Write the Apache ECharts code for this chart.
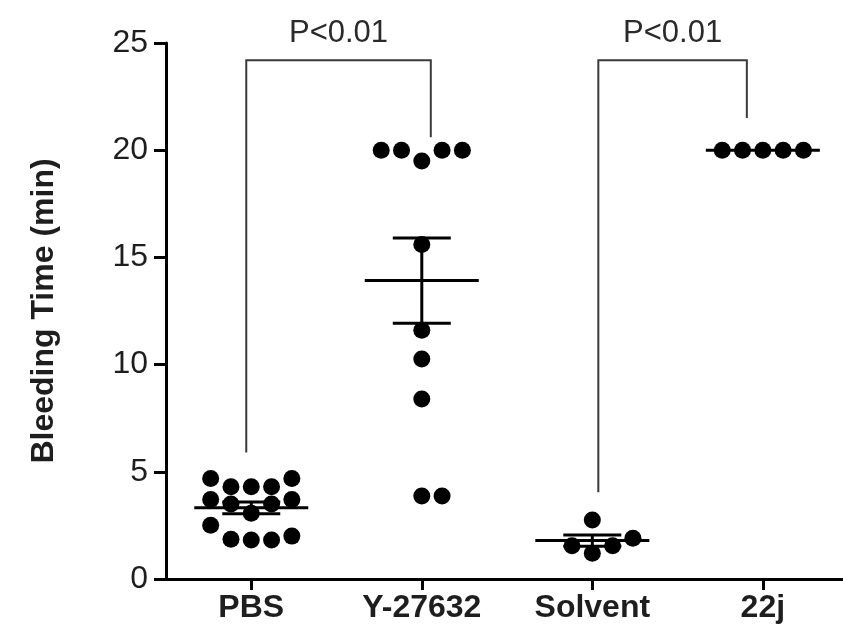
<!DOCTYPE html>
<html>
<head>
<meta charset="utf-8">
<script src="https://cdn.jsdelivr.net/npm/echarts@6/dist/echarts.min.js"></script>
<style>
  html, body { margin: 0; padding: 0; background: #fff; }
  #main { width: 843px; height: 640px; }
</style>
</head>
<body>
<div id="main"></div>
<script>
// groups on the x axis
var groups = ['PBS', 'Y-27632', 'Solvent', '22j'];

// bleeding time (min) for each animal
var pbsValues = [4.69, 4.69, 4.3, 4.3, 4.3, 3.71, 3.71, 3.5, 3.5, 3.07, 2.51, 2.0, 1.85, 1.82, 1.82];
var y27632Values = [20, 20, 19.5, 20, 20, 15.6, 11.6, 10.26, 8.4, 3.87, 3.87];
var solventValues = [2.75, 1.9, 1.55, 1.55, 1.2];
var j22Values = [20, 20, 20, 20, 20];

// y axis
var yMin = 0;
var yMax = 25;
var yStep = 5;

// significance brackets: [from group, to group], top, leg ends, text
var bracketPairs = [[0, 1], [2, 3]];
var bracketTops = [24.2, 24.2];
var bracketLegEnds = [[5.9, 20.6], [4.05, 21.5]];
var bracketTexts = ['P<0.01', 'P<0.01'];

var FONT = "'Liberation Sans', Arial, sans-serif";
var DOT = 17;              // dot diameter px
var SLOT = 0.119;          // horizontal step between dots, in x units
var GAP = 0.75;            // min vertical distance (y units) for dots sharing a slot

// simple beeswarm: ascending values, slots 0, +1, -1, +2, -2 ...
function swarm(values, gi) {
  var sorted = values.slice().sort(function (a, b) { return a - b; });
  var order = [0, 1, -1, 2, -2, 3, -3, 4, -4];
  var placed = [];
  return sorted.map(function (v) {
    for (var k = 0; k < order.length; k++) {
      var s = order[k];
      var hit = placed.some(function (p) { return p.s === s && Math.abs(p.v - v) < GAP; });
      if (!hit) { placed.push({ s: s, v: v }); return [gi + s * SLOT, v]; }
    }
    return [gi, v];
  });
}

function meanSem(values) {
  var n = values.length;
  var m = values.reduce(function (a, b) { return a + b; }, 0) / n;
  var ss = values.reduce(function (a, b) { return a + (b - m) * (b - m); }, 0);
  var sd = n > 1 ? Math.sqrt(ss / (n - 1)) : 0;
  return [m, sd / Math.sqrt(n)];
}

var allValues = [pbsValues, y27632Values, solventValues, j22Values];

var dots = [];
allValues.forEach(function (vals, gi) { dots = dots.concat(swarm(vals, gi)); });

var stats = allValues.map(function (vals, gi) {
  var ms = meanSem(vals);
  return [gi, ms[0], ms[1]];
});

var bracketData = bracketPairs.map(function (p, i) {
  return [p[0], p[1], bracketTops[i], bracketLegEnds[i][0], bracketLegEnds[i][1], i];
});
// small pixel nudges of bracket legs (left, right)
var legNudge = [[-5, 9], [6, -16]];

var chart = echarts.init(document.getElementById('main'));

var option = {
  animation: false,
  backgroundColor: '#fff',
  grid: { left: 166, right: 0, top: 43, bottom: 61 },
  xAxis: {
    type: 'value',
    min: -0.5,
    max: 3.47,
    splitLine: { show: false },
    axisLine: { show: true, onZero: false, lineStyle: { color: '#000', width: 3 } },
    axisTick: { show: true, customValues: [0, 1, 2, 3], length: 11, lineStyle: { color: '#000', width: 3 } },
    axisLabel: {
      customValues: [0, 1, 2, 3],
      margin: 13,
      color: '#1e1e1e',
      fontSize: 32,
      fontWeight: 'bold',
      fontFamily: FONT,
      formatter: function (v) { return groups[Math.round(v)]; }
    }
  },
  yAxis: {
    type: 'value',
    min: yMin,
    max: yMax,
    interval: yStep,
    name: 'Bleeding Time (min)',
    nameLocation: 'middle',
    nameGap: 106,
    nameTextStyle: { color: '#1e1e1e', fontSize: 32, fontWeight: 'bold', fontFamily: FONT },
    splitLine: { show: false },
    axisLine: { show: true, onZero: false, lineStyle: { color: '#000', width: 3 } },
    axisTick: { show: true, length: 12, lineStyle: { color: '#000', width: 3 } },
    axisLabel: { margin: 18, color: '#1e1e1e', fontSize: 32, fontFamily: FONT }
  },
  series: [
    {
      type: 'scatter',
      data: dots,
      symbol: 'circle',
      symbolSize: DOT,
      itemStyle: { color: '#000', opacity: 1 },
      z: 3
    },
    {
      type: 'custom',
      data: stats,
      z: 4,
      renderItem: function (params, api) {
        var gi = api.value(0), m = api.value(1), se = api.value(2);
        var c = api.coord([gi, m]);
        var hi = api.coord([gi, m + se]);
        var lo = api.coord([gi, m - se]);
        var st = { stroke: '#000', lineWidth: 3 };
        var kids = [
          { type: 'line', shape: { x1: c[0] - 57, y1: c[1], x2: c[0] + 57, y2: c[1] }, style: st }
        ];
        if (se > 0) {
          kids.push({ type: 'line', shape: { x1: c[0], y1: hi[1], x2: c[0], y2: lo[1] }, style: st });
          kids.push({ type: 'line', shape: { x1: c[0] - 29, y1: hi[1], x2: c[0] + 29, y2: hi[1] }, style: st });
          kids.push({ type: 'line', shape: { x1: c[0] - 29, y1: lo[1], x2: c[0] + 29, y2: lo[1] }, style: st });
        }
        return { type: 'group', children: kids };
      }
    },
    {
      type: 'custom',
      data: bracketData,
      z: 5,
      clip: false,
      renderItem: function (params, api) {
        var a = api.value(0), b = api.value(1), top = api.value(2);
        var l = api.value(3), r = api.value(4), i = api.value(5);
        var nudge = legNudge[i];
        var pl = api.coord([a, l]);
        var pr = api.coord([b, r]);
        var pt = api.coord([a, top]);
        var xl = pl[0] + nudge[0];
        var xr = pr[0] + nudge[1];
        return {
          type: 'group',
          children: [
            {
              type: 'polyline',
              shape: { points: [[xl, pl[1]], [xl, pt[1]], [xr, pt[1]], [xr, pr[1]]] },
              style: { stroke: '#3a3a3a', lineWidth: 2, fill: null }
            },
            {
              type: 'text',
              style: {
                text: bracketTexts[i],
                x: (xl + xr) / 2,
                y: pt[1] - 27,
                align: 'center',
                verticalAlign: 'middle',
                fill: '#2a2a2a',
                fontSize: 31,
                fontFamily: FONT
              }
            }
          ]
        };
      }
    }
  ]
};

chart.setOption(option);
</script>
</body>
</html>
